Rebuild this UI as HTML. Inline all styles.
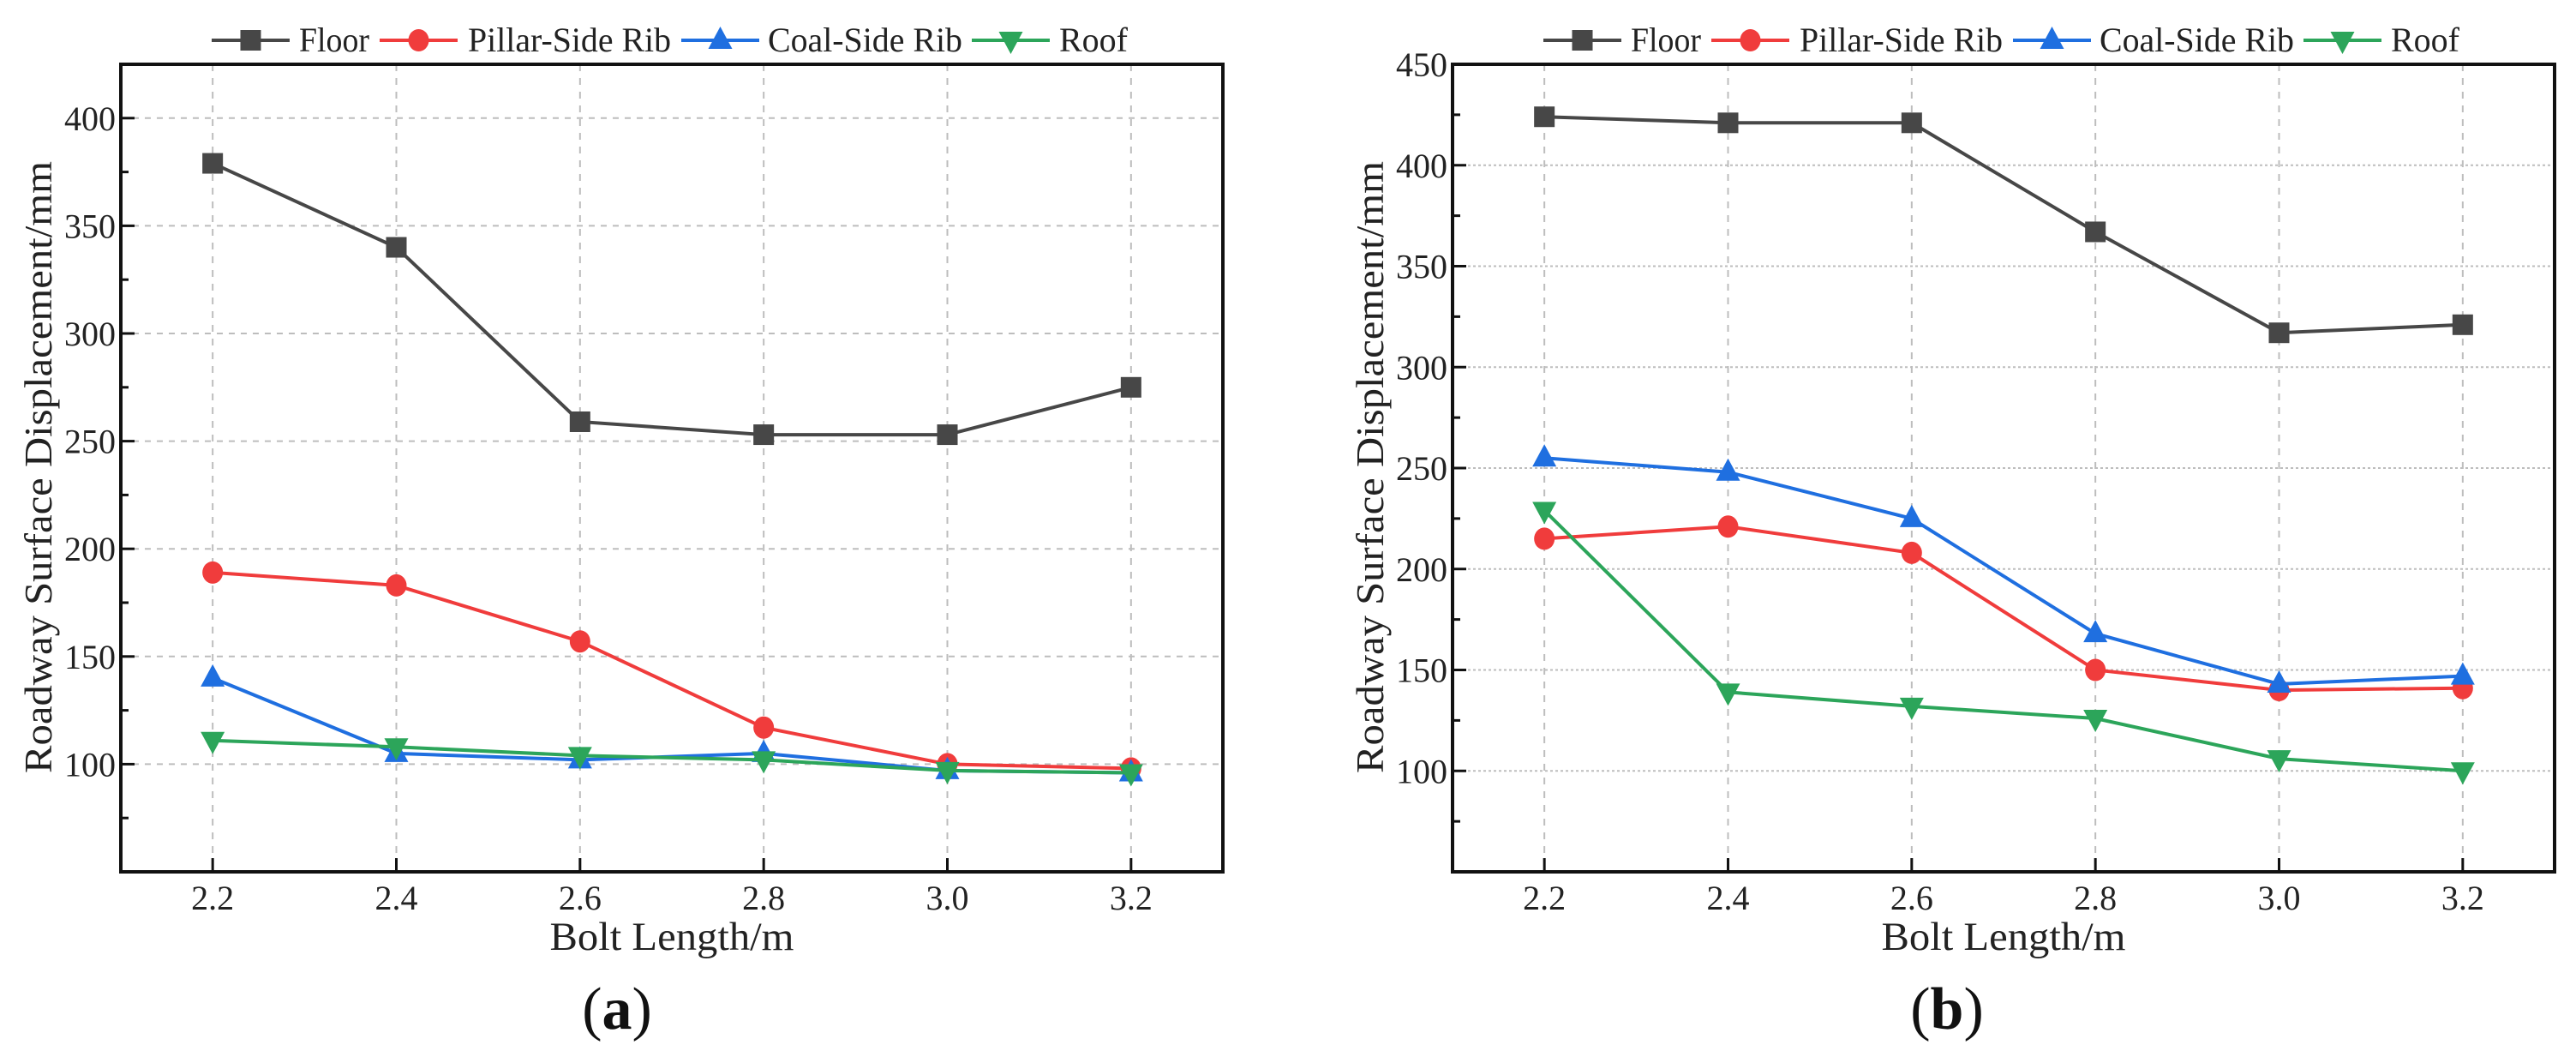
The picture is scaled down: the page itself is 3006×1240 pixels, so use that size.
<!DOCTYPE html>
<html><head><meta charset="utf-8"><style>
html,body{margin:0;padding:0;background:#fff;}
svg{display:block;font-family:"Liberation Serif",serif;}
</style></head><body>
<svg id="fig" width="3006" height="1240" viewBox="0 0 3006 1240" xmlns="http://www.w3.org/2000/svg"></svg>
<script>
const categories = [2.2, 2.4, 2.6, 2.8, 3.0, 3.2];
const xTickLabels = ["2.2","2.4","2.6","2.8","3.0","3.2"];
const seriesNames = ["Floor","Pillar-Side Rib","Coal-Side Rib","Roof"];
const aFloor = [379, 340, 259, 253, 253, 275];
const aPillar = [189, 183, 157, 117, 100, 98];
const aCoal = [140, 105, 102, 105, 97, 96];
const aRoof = [111, 108, 104, 102, 97, 96];
const bFloor = [424, 421, 421, 367, 317, 321];
const bPillar = [215, 221, 208, 150, 140, 141];
const bCoal = [255, 248, 225, 168, 143, 147];
const bRoof = [229, 139, 132, 126, 106, 100];
const aYTicks = [100, 150, 200, 250, 300, 350, 400];
const bYTicks = [100, 150, 200, 250, 300, 350, 400, 450];

const NS = "http://www.w3.org/2000/svg";
const svg = document.getElementById('fig');
const colors = ["#474747", "#f03c3c", "#1f6fe0", "#2ca55a"];
const markers = ["square", "circle", "up", "down"];
function mk(tag, attrs, parent) {
  const e = document.createElementNS(NS, tag);
  for (const k in attrs) e.setAttribute(k, attrs[k]);
  (parent || svg).appendChild(e);
  return e;
}
function marker(g, type, cx, cy, color) {
  let m;
  if (type === "square") m = mk('rect', {x: cx-12, y: cy-12, width: 24, height: 24, fill: color}, g);
  else if (type === "circle") m = mk('ellipse', {cx: cx, cy: cy, rx: 12, ry: 13, fill: color}, g);
  else if (type === "up") m = mk('polygon', {points: `${cx},${cy-16} ${cx-14},${cy+10} ${cx+14},${cy+10}`, fill: color}, g);
  else m = mk('polygon', {points: `${cx},${cy+16} ${cx-14},${cy-10} ${cx+14},${cy-10}`, fill: color}, g);
  return m;
}

function drawChart(cfg) {
  const g = mk('g', {});
  
  
  const L = cfg.left, R = cfg.right, T = 75, B = 1017;
  const xMin = 2.1, xMax = 3.3, yMin = 50, yMax = cfg.yMax;
  const xs = v => L + (v - xMin) / (xMax - xMin) * (R - L);
  const ys = v => B - (v - yMin) / (yMax - yMin) * (B - T);
  const grid = mk('g', {stroke: "#bdbdbd", "stroke-width": 2}, g);
  
  
  categories.forEach(c => {
    const l = mk('line', {x1: xs(c), x2: xs(c), y1: T, y2: B, "stroke-dasharray": "8,8"}, grid);
    
    
  });
  cfg.yTicks.forEach(t => {
    if (t >= yMax) return;
    const l = mk('line', {x1: L, x2: R, y1: ys(t), y2: ys(t), "stroke-dasharray": cfg.hdash}, grid);
    
    
  });
  cfg.series.forEach((vals, si) => {
    const sg = mk('g', {}, g);
    
    
    const pts = vals.map((v, i) => xs(categories[i]) + "," + ys(v)).join(" ");
    const pl = mk('polyline', {points: pts, fill: "none", stroke: colors[si], "stroke-width": 4}, sg);
    
    
    vals.forEach((v, i) => {
      const m = marker(sg, markers[si], xs(categories[i]), ys(v), colors[si]);
      
      
    });
  });
  const fr = mk('rect', {x: L, y: T, width: R - L, height: B - T, fill: "none", stroke: "#111", "stroke-width": 4}, g);
  
  
  for (let v = yMin; v <= yMax; v += 25) {
    const major = (v % 50 === 0);
    const tk = mk('line', {x1: L, x2: L + (major ? 16 : 9), y1: ys(v), y2: ys(v), stroke: "#111", "stroke-width": 3}, g);
    
    
  }
  cfg.yTicks.forEach(t => {
    const tx = mk('text', {x: L - 6, y: ys(t) + 14, "font-size": 40, "text-anchor": "end", fill: "#222"}, g);
    tx.textContent = String(t);
    
    
  });
  categories.forEach((c, i) => {
    const tk = mk('line', {x1: xs(c), x2: xs(c), y1: B, y2: B - 16, stroke: "#111", "stroke-width": 3}, g);
    
    
    const tx = mk('text', {x: xs(c), y: 1061, "font-size": 40, "text-anchor": "middle", fill: "#222"}, g);
    tx.textContent = xTickLabels[i];
    
    
  });
  const xt = mk('text', {x: (L + R) / 2, y: 1108, "font-size": 47, "text-anchor": "middle", fill: "#222", textLength: 285, lengthAdjust: "spacingAndGlyphs"}, g);
  xt.textContent = "Bolt Length/m";
  
  
  const cy = 545, tx0 = cfg.titleX;
  const yt = mk('text', {x: tx0, y: cy, "font-size": 46, "text-anchor": "middle", fill: "#222", textLength: 714, lengthAdjust: "spacingAndGlyphs", transform: `rotate(-90 ${tx0} ${cy})`}, g);
  yt.textContent = "Roadway Surface Displacement/mm";
  
  
  const lg = mk('g', {}, g);
  
  
  const lineOff = [0, 196, 548, 887], textOff = [102, 299, 649, 989], textW = [82, 237, 227, 80];
  seriesNames.forEach((n, si) => {
    const eg = mk('g', {}, lg);
    
    
    const x0 = cfg.legendX + lineOff[si];
    mk('line', {x1: x0, x2: x0 + 91, y1: 47, y2: 47, stroke: colors[si], "stroke-width": 4}, eg);
    marker(eg, markers[si], x0 + 45.5, 47, colors[si]);
    const t = mk('text', {x: cfg.legendX + textOff[si], y: 60, "font-size": 40, fill: "#222", textLength: textW[si], lengthAdjust: "spacingAndGlyphs"}, eg);
    t.textContent = n;
  });
  const pl = mk('text', {x: cfg.panelX, y: 1200, "font-size": 70, "text-anchor": "middle", fill: "#111"}, g);
  pl.innerHTML = '(<tspan font-weight="bold">' + cfg.panel + '</tspan>)';
  
  
}

drawChart({name: "chart-a", left: 141, right: 1427, yMax: 425, yTicks: aYTicks, series: [aFloor, aPillar, aCoal, aRoof], titleX: 60, legendX: 247, panelX: 720, panel: "a", hdash: "7,7"});
drawChart({name: "chart-b", left: 1695, right: 2981, yMax: 450, yTicks: bYTicks, series: [bFloor, bPillar, bCoal, bRoof], titleX: 1614, legendX: 1801, panelX: 2272, panel: "b", hdash: "3,3"});
</script>
</body></html>
